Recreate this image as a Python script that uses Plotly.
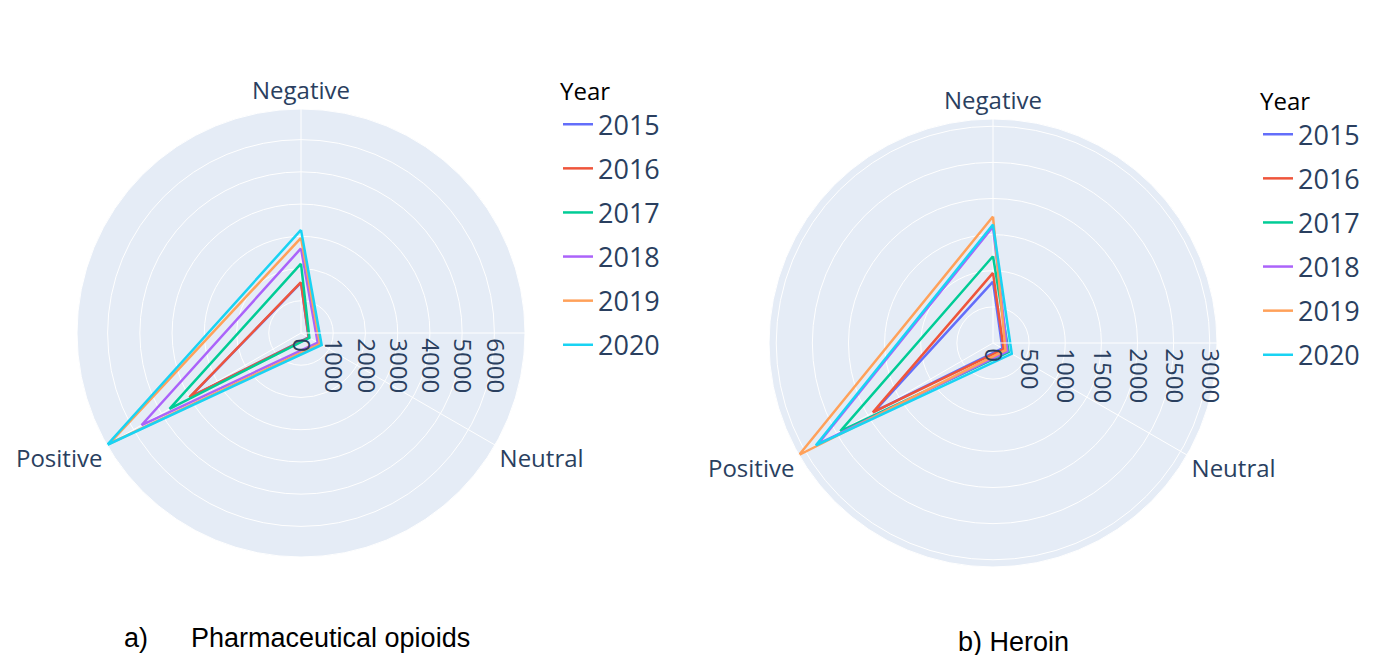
import plotly.graph_objects as go

categories = ["Negative", "Neutral", "Positive"]
years = ["2015", "2016", "2017", "2018", "2019", "2020"]
colors = ["#636efa", "#EF553B", "#00cc96", "#ab63fa", "#FFA15A", "#19d3f3"]

# a) Pharmaceutical opioids
opioids_negative = [1560, 1575, 2150, 2625, 2950, 3200]
opioids_neutral = [270, 280, 300, 600, 680, 740]
opioids_positive = [3980, 4000, 4710, 5710, 6880, 6950]

# b) Heroin
heroin_negative = [850, 970, 1200, 1610, 1750, 1640]
heroin_neutral = [150, 170, 250, 230, 200, 300]
heroin_positive = [1900, 1920, 2440, 2800, 3100, 2830]

W, H = 1376, 655
fig = go.Figure()

def add_set(neg, neu, pos, subplot, legend):
    for i, y in enumerate(years):
        r = [neg[i], neu[i], pos[i], neg[i]]
        fig.add_trace(go.Scatterpolar(
            r=r, theta=categories + [categories[0]], mode="lines",
            name=y, line=dict(color=colors[i], width=2.5),
            legendgroup=subplot + y,
            subplot=subplot, legend=legend))

add_set(opioids_negative, opioids_neutral, opioids_positive, "polar", "legend")
add_set(heroin_negative, heroin_neutral, heroin_positive, "polar2", "legend2")

def dom(cx, cy, R):
    return dict(x=[(cx - R) / W, (cx + R) / W],
                y=[(H - cy - R) / H, (H - cy + R) / H])

R = 224
axis_font = dict(family="Open Sans, sans-serif", size=24, color="#2a3f5f")

def polar_cfg(cx, cy, dtick, rmax):
    return dict(
        domain=dom(cx, cy, R),
        bgcolor="#E5ECF6",
        angularaxis=dict(direction="clockwise", rotation=90, gridcolor="white",
                         linecolor="white", ticks="", tickfont=axis_font),
        radialaxis=dict(angle=0, tickangle=90, gridcolor="white", linecolor="white",
                        showline=True, ticks="", dtick=dtick, range=[0, rmax],
                        tickfont=axis_font),
    )

leg_font = dict(family="Open Sans, sans-serif", size=27, color="#2a3f5f")
title_font = dict(family="Open Sans, sans-serif", size=24, color="black")
cap_font = dict(family="Liberation Sans, Arial", size=27, color="black")

fig.update_layout(
    width=W, height=H,
    margin=dict(l=0, r=0, t=0, b=0),
    paper_bgcolor="white",
    polar=polar_cfg(293, 325, 1000, max(opioids_positive)),
    polar2=polar_cfg(985, 335, 500, max(heroin_positive)),
    legend=dict(x=550 / W, y=1 - 61 / H, xanchor="left", yanchor="top",
                title=dict(text="Year", font=title_font), font=leg_font,
                tracegroupgap=6, bgcolor="rgba(0,0,0,0)"),
    legend2=dict(x=1250 / W, y=1 - 71 / H, xanchor="left", yanchor="top",
                 title=dict(text="Year", font=title_font), font=leg_font,
                 tracegroupgap=6, bgcolor="rgba(0,0,0,0)"),
    annotations=[
        dict(text="a)", x=114 / W, y=1 - 630 / H, xref="paper", yref="paper",
             xanchor="left", yanchor="middle", showarrow=False, font=cap_font),
        dict(text="Pharmaceutical opioids", x=181 / W, y=1 - 630 / H, xref="paper",
             yref="paper", xanchor="left", yanchor="middle", showarrow=False,
             font=cap_font),
        dict(text="b) Heroin", x=1005 / W, y=1 - 634 / H, xref="paper", yref="paper",
             xanchor="center", yanchor="middle", showarrow=False, font=cap_font),
    ],
)

fig.write_html("out.html")
